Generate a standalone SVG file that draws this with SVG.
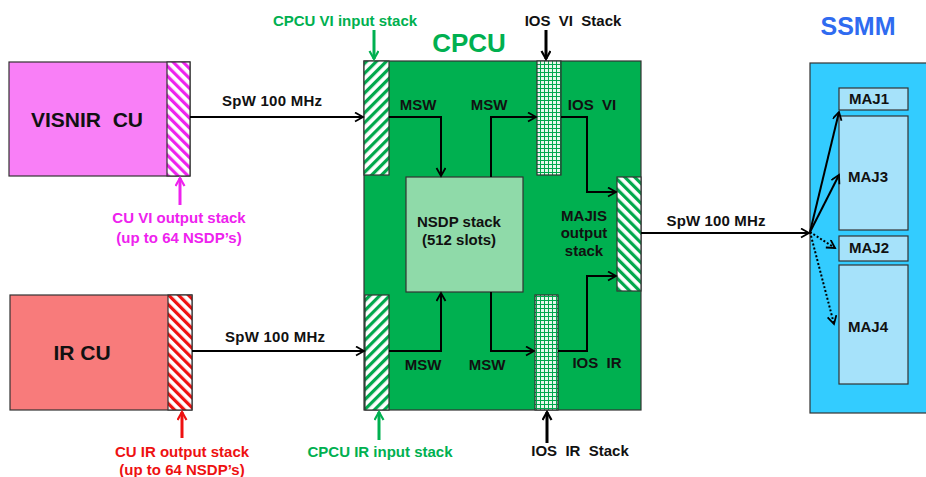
<svg xmlns="http://www.w3.org/2000/svg" width="926" height="477" viewBox="0 0 926 477">
<style>
  text { font-family: "Liberation Sans", Arial, sans-serif; font-weight: bold; }
  .box { stroke: #333; stroke-width: 1.2; }
  .lbl { font-size: 15px; fill: #111; }
  .big { font-size: 21px; fill: #111; }
  .ann-t { font-size: 15px; }
  .conn { fill: none; stroke: #000; stroke-width: 2; }
  .ann { fill: none; stroke-width: 3; }
</style>
<defs>
  <pattern id="hatchMag" width="7" height="7" patternUnits="userSpaceOnUse" patternTransform="rotate(-45)">
    <rect width="7" height="7" fill="#fff"/><rect width="3.2" height="7" fill="#ee22ee"/>
  </pattern>
  <pattern id="hatchRed" width="7" height="7" patternUnits="userSpaceOnUse" patternTransform="rotate(-45)">
    <rect width="7" height="7" fill="#fff"/><rect width="3.2" height="7" fill="#ee1111"/>
  </pattern>
  <pattern id="hatchGrnS" width="7" height="7" patternUnits="userSpaceOnUse" patternTransform="rotate(45)">
    <rect width="7" height="7" fill="#fff"/><rect width="3.2" height="7" fill="#00a84c"/>
  </pattern>
  <pattern id="hatchGrnB" width="7" height="7" patternUnits="userSpaceOnUse" patternTransform="rotate(-45)">
    <rect width="7" height="7" fill="#fff"/><rect width="3.2" height="7" fill="#00a84c"/>
  </pattern>
  <pattern id="grid" width="4" height="4" patternUnits="userSpaceOnUse">
    <rect width="4" height="4" fill="#e6f8ec"/>
    <path d="M0,0.5 H4 M0.5,0 V4" stroke="#00a84c" stroke-width="1"/>
  </pattern>
  <marker id="ah" markerUnits="userSpaceOnUse" markerWidth="12" markerHeight="12" refX="9" refY="5" orient="auto">
    <path d="M1,0.5 L9,5 L1,9.5" fill="none" stroke="#000" stroke-width="1.8"/>
  </marker>
  <marker id="ahM" markerUnits="userSpaceOnUse" markerWidth="12" markerHeight="12" refX="9" refY="5" orient="auto">
    <path d="M1,0.5 L9,5 L1,9.5" fill="none" stroke="#ee22ee" stroke-width="2.2"/>
  </marker>
  <marker id="ahR" markerUnits="userSpaceOnUse" markerWidth="12" markerHeight="12" refX="9" refY="5" orient="auto">
    <path d="M1,0.5 L9,5 L1,9.5" fill="none" stroke="#ee1111" stroke-width="2.2"/>
  </marker>
  <marker id="ahG" markerUnits="userSpaceOnUse" markerWidth="12" markerHeight="12" refX="9" refY="5" orient="auto">
    <path d="M1,0.5 L9,5 L1,9.5" fill="none" stroke="#00b050" stroke-width="2.2"/>
  </marker>
  <marker id="ahK" markerUnits="userSpaceOnUse" markerWidth="12" markerHeight="12" refX="9" refY="5" orient="auto">
    <path d="M1,0.5 L9,5 L1,9.5" fill="none" stroke="#000" stroke-width="2.2"/>
  </marker>
</defs>

<rect width="926" height="477" fill="#fff"/>

<g id="visnir-cu">
  <rect class="box" x="9" y="62" width="181" height="114" fill="#f97ff7"/>
  <rect class="box" x="167" y="62" width="23" height="114" fill="url(#hatchMag)"/>
  <text class="big" x="87" y="127" text-anchor="middle" xml:space="preserve">VISNIR  CU</text>
</g>

<g id="ir-cu">
  <rect class="box" x="10" y="295" width="182" height="115" fill="#f87b7b"/>
  <rect class="box" x="168" y="295" width="24" height="115" fill="url(#hatchRed)"/>
  <text class="big" x="82" y="360" text-anchor="middle">IR CU</text>
</g>

<g id="cpcu">
  <text x="469" y="52" text-anchor="middle" font-size="26" fill="#00b050">CPCU</text>
  <rect class="box" x="364" y="61" width="277" height="349" fill="#00b050"/>
  <rect class="box" x="364" y="61" width="25" height="114" fill="url(#hatchGrnS)"/>
  <rect class="box" x="365" y="295" width="24" height="115" fill="url(#hatchGrnS)"/>
  <rect class="box" x="537" y="61" width="24" height="114" fill="url(#grid)"/>
  <rect class="box" x="535" y="295" width="23" height="115" fill="url(#grid)"/>
  <rect class="box" x="617" y="177" width="24" height="114" fill="url(#hatchGrnB)"/>
  <text class="lbl" x="418" y="110" text-anchor="middle">MSW</text>
  <text class="lbl" x="489" y="110" text-anchor="middle">MSW</text>
  <text class="lbl" x="592" y="110" text-anchor="middle" xml:space="preserve">IOS  VI</text>
  <text class="lbl" x="423" y="370" text-anchor="middle">MSW</text>
  <text class="lbl" x="487" y="370" text-anchor="middle">MSW</text>
  <text class="lbl" x="597" y="368" text-anchor="middle" xml:space="preserve">IOS  IR</text>
  <text class="lbl" x="584" y="221" text-anchor="middle">MAJIS</text>
  <text class="lbl" x="584" y="238" text-anchor="middle">output</text>
  <text class="lbl" x="584" y="256" text-anchor="middle">stack</text>
</g>

<g id="nsdp-stack">
  <rect class="box" x="406" y="177" width="117" height="115" fill="#8fdaa9"/>
  <text class="lbl" x="459" y="227" text-anchor="middle">NSDP stack</text>
  <text class="lbl" x="459" y="245" text-anchor="middle">(512 slots)</text>
</g>

<g id="ssmm">
  <text x="858" y="35" text-anchor="middle" font-size="25" fill="#2f6bf0">SSMM</text>
  <rect class="box" x="810" y="63" width="125" height="350" fill="#33ccff"/>
  <rect class="box" x="839" y="88" width="69" height="22" fill="#a6e2fa"/>
  <rect class="box" x="839" y="116" width="69" height="114" fill="#a6e2fa"/>
  <rect class="box" x="839" y="236" width="69" height="25" fill="#a6e2fa"/>
  <rect class="box" x="839" y="265" width="69" height="119" fill="#a6e2fa"/>
  <text class="lbl" x="869" y="104" text-anchor="middle">MAJ1</text>
  <text class="lbl" x="868" y="182" text-anchor="middle">MAJ3</text>
  <text class="lbl" x="869" y="253" text-anchor="middle">MAJ2</text>
  <text class="lbl" x="868" y="332" text-anchor="middle">MAJ4</text>
</g>

<g id="annotations">
  <text class="ann-t" x="179" y="223" text-anchor="middle" fill="#ee22ee">CU VI output stack</text>
  <text class="ann-t" x="179" y="243" text-anchor="middle" fill="#ee22ee">(up to 64 NSDP’s)</text>
  <text class="ann-t" x="182" y="457" text-anchor="middle" fill="#ee1111">CU IR output stack</text>
  <text class="ann-t" x="182" y="475" text-anchor="middle" fill="#ee1111">(up to 64 NSDP’s)</text>
  <text class="ann-t" x="345" y="26" text-anchor="middle" fill="#00b050">CPCU VI input stack</text>
  <text class="ann-t" x="380" y="457" text-anchor="middle" fill="#00b050">CPCU IR input stack</text>
  <text class="ann-t" x="573" y="26" text-anchor="middle" fill="#111" xml:space="preserve">IOS  VI  Stack</text>
  <text class="ann-t" x="580" y="456" text-anchor="middle" fill="#111" xml:space="preserve">IOS  IR  Stack</text>
  <text class="lbl" x="272" y="106" text-anchor="middle" textLength="100">SpW 100 MHz</text>
  <text class="lbl" x="275" y="342" text-anchor="middle" textLength="100">SpW 100 MHz</text>
  <text class="lbl" x="716" y="226" text-anchor="middle" textLength="99">SpW 100 MHz</text>
</g>

<g id="connectors">
  <path class="conn" d="M190,117 H363" marker-end="url(#ah)"/>
  <path class="conn" d="M192,351 H364" marker-end="url(#ah)"/>
  <path class="conn" d="M641,233 H809" marker-end="url(#ah)"/>
  <path class="conn" d="M389,117 H441 V176" marker-end="url(#ah)"/>
  <path class="conn" d="M491,177 V117 H536" marker-end="url(#ah)"/>
  <path class="conn" d="M561,117 H587 V192 H616" marker-end="url(#ah)"/>
  <path class="conn" d="M389,351 H441 V293" marker-end="url(#ah)"/>
  <path class="conn" d="M491,292 V351 H534" marker-end="url(#ah)"/>
  <path class="conn" d="M558,351 H587 V276 H616" marker-end="url(#ah)"/>
  <path class="conn" d="M810,232 L839,112" marker-end="url(#ah)"/>
  <path class="conn" d="M810,232 L839,175" marker-end="url(#ah)"/>
  <path class="conn" d="M810,232 L835,248" stroke-dasharray="2,2" marker-end="url(#ah)"/>
  <path class="conn" d="M810,232 L834,324" stroke-dasharray="2,2" marker-end="url(#ah)"/>
  <path class="ann" stroke="#ee22ee" d="M180,205 V178" marker-end="url(#ahM)"/>
  <path class="ann" stroke="#ee1111" d="M182,438 V412" marker-end="url(#ahR)"/>
  <path class="ann" stroke="#00b050" d="M374,30 V59" marker-end="url(#ahG)"/>
  <path class="ann" stroke="#00b050" d="M379,440 V412" marker-end="url(#ahG)"/>
  <path class="ann" stroke="#000" d="M546,30 V59" marker-end="url(#ahK)"/>
  <path class="ann" stroke="#000" d="M547,443 V412" marker-end="url(#ahK)"/>
</g>
</svg>
